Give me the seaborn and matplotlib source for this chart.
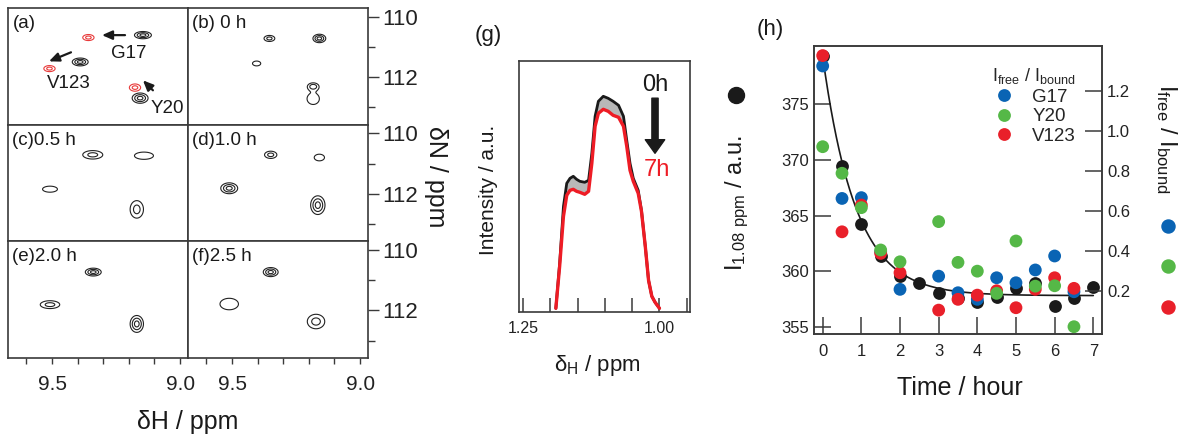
import numpy as np
import pandas as pd
import matplotlib
matplotlib.use("Agg")
import matplotlib.pyplot as plt
import seaborn as sns
from matplotlib.ticker import FixedLocator, FixedFormatter
from matplotlib.lines import Line2D

# ---------------- data: 2D peak lists (delta_H, delta_N, half-width H, half-width N, n contours)
panel_labels = ["(a)", "(b) 0 h", "(c)0.5 h", "(d)1.0 h", "(e)2.0 h", "(f)2.5 h"]
peaks_black = [
    [(9.145, 110.61, 0.033, 0.12, 3), (9.390, 111.50, 0.031, 0.13, 3), (9.156, 112.70, 0.031, 0.17, 3)],
    [(9.354, 110.72, 0.021, 0.10, 2), (9.159, 110.72, 0.025, 0.14, 3), (9.404, 111.55, 0.016, 0.08, 1),
     (9.183, 112.31, 0.020, 0.11, 2), (9.183, 112.72, 0.024, 0.19, 1)],
    [(9.341, 110.71, 0.039, 0.14, 2), (9.141, 110.74, 0.037, 0.12, 1), (9.508, 111.85, 0.029, 0.10, 1),
     (9.169, 112.52, 0.026, 0.29, 2)],
    [(9.349, 110.71, 0.024, 0.12, 2), (9.159, 110.80, 0.020, 0.11, 1), (9.511, 111.82, 0.033, 0.18, 3),
     (9.165, 112.38, 0.028, 0.31, 3)],
    [(9.339, 110.73, 0.031, 0.13, 3), (9.508, 111.81, 0.038, 0.13, 2), (9.169, 112.45, 0.026, 0.28, 3)],
    [(9.349, 110.73, 0.029, 0.15, 3), (9.511, 111.79, 0.036, 0.19, 1), (9.172, 112.37, 0.034, 0.24, 2)],
]
peaks_red_a = [(9.358, 110.69, 0.022, 0.10, 2), (9.510, 111.72, 0.022, 0.10, 2), (9.176, 112.35, 0.022, 0.12, 2)]
assign_names = ["G17", "V123", "Y20"]
assign_text_pos = [(9.199, 111.21), (9.434, 112.21), (9.051, 113.04)]
assign_arrows = [((9.215, 110.61), (9.305, 110.61)), ((9.426, 111.18), (9.512, 111.48)),
                 ((9.106, 112.44), (9.145, 112.11))]

# ---------------- data: 1D spectra, panel (g)
ppm_g = [1.190, 1.183, 1.176, 1.170, 1.164, 1.158, 1.152, 1.146, 1.137, 1.130, 1.124, 1.118, 1.112, 1.103,
         1.094, 1.085, 1.075, 1.066, 1.060, 1.054, 1.048, 1.039, 1.033, 1.026, 1.020, 1.014, 1.008, 1.000]
int_0h = [4, 49, 106, 129, 134, 136, 133, 131, 130, 132, 159, 196, 211, 216,
          214, 211, 207, 196, 172, 149, 134, 122, 102, 66, 32, 16, 10, 4]
int_7h = [4, 46, 96, 117, 122, 123, 121, 120, 118, 121, 149, 186, 199, 203,
          201, 197, 195, 186, 166, 142, 131, 119, 101, 66, 32, 16, 10, 4]

# ---------------- data: panel (h)
time_black = [0, 0.5, 1, 1.5, 2, 2.5, 3, 3.5, 4, 4.5, 5, 5.5, 6, 6.5, 7]
intensity_108 = [379.3, 369.45, 364.24, 361.36, 359.59, 358.96, 358.0, 357.6, 357.25, 357.7, 358.45,
                 358.9, 356.86, 357.55, 358.6]
time_ratio = [0, 0.5, 1, 1.5, 2, 3, 3.5, 4, 4.5, 5, 5.5, 6, 6.5]
ratio_G17 = [1.325, 0.662, 0.666, 0.395, 0.207, 0.273, 0.190, 0.157, 0.265, 0.240, 0.304, 0.374, 0.195]
ratio_V123 = [1.377, 0.495, 0.629, 0.387, 0.290, 0.103, 0.157, 0.178, 0.200, 0.115, 0.207, 0.265, 0.212]
ratio_Y20 = [0.921, 0.788, 0.616, 0.404, 0.345, 0.546, 0.342, 0.298, 0.187, 0.449, 0.223, 0.225, 0.020]
fit_plateau, fit_amp, fit_rate = 357.8, 21.5, 1.165

BLUE, GREEN, RED, BLACK = "#0a64b4", "#55b847", "#e9202a", "#1a1a1a"
SPINE = "#3a3a3a"

sns.set_theme(style="ticks")
plt.rcParams["font.family"] = ["Liberation Sans", "DejaVu Sans"]
plt.rcParams["mathtext.default"] = "regular"
plt.rcParams["axes.edgecolor"] = SPINE
plt.rcParams["axes.linewidth"] = 1.1
plt.rcParams["xtick.color"] = SPINE
plt.rcParams["ytick.color"] = SPINE
plt.rcParams["xtick.labelcolor"] = "#222222"
plt.rcParams["ytick.labelcolor"] = "#222222"

W, H = 1195, 438
fig = plt.figure(figsize=(W / 100, H / 100), dpi=100)


def fx(px):
    return px / W


def fy(py):
    return 1 - py / H


# ================= contour panels
gs = fig.add_gridspec(3, 2, left=fx(8), right=fx(368), top=fy(8), bottom=fy(358), wspace=0, hspace=0)
xg = np.linspace(8.95, 9.70, 400)
yg = np.linspace(109.5, 113.8, 400)
XX, YY = np.meshgrid(xg, yg)
levels = [0.3, 0.55, 0.8]


def spectrum(peaks):
    Z = np.zeros_like(XX)
    for (cx, cy, wx, wy, n) in peaks:
        A = levels[n - 1] + 0.12
        f = np.sqrt(2 * np.log(A / levels[0]))
        sx, sy = wx / f, wy / f
        Z += A * np.exp(-0.5 * (((XX - cx) / sx) ** 2 + ((YY - cy) / sy) ** 2))
    return Z


for i in range(6):
    r, c = divmod(i, 2)
    ax = fig.add_subplot(gs[r, c])
    ax.contour(XX, YY, spectrum(peaks_black[i]), levels=levels, colors="#222222", linewidths=0.8)
    if i == 0:
        ax.contour(XX, YY, spectrum(peaks_red_a), levels=levels, colors="#e83a3a", linewidths=0.8)
        for name, (tx, ty), (a0, a1) in zip(assign_names, assign_text_pos, assign_arrows):
            ax.text(tx, ty, name, fontsize=13.5, ha="center", va="center", color="#1a1a1a")
            ax.annotate("", xy=a1, xytext=a0,
                        arrowprops=dict(arrowstyle="-|>,head_length=0.5,head_width=0.22",
                                        color="#1a1a1a", lw=1.6, shrinkA=0, shrinkB=0))
    ax.set_xlim(9.672, 8.969)
    ax.set_ylim(113.58, 109.71)
    ax.text(0.025, 0.94, panel_labels[i], transform=ax.transAxes, fontsize=13.5, va="top", ha="left",
            color="#1a1a1a")
    for s in ax.spines.values():
        s.set_linewidth(1.2)
    ax.xaxis.set_major_locator(FixedLocator([9.5, 9.0]))
    ax.xaxis.set_minor_locator(FixedLocator([9.6, 9.4, 9.3, 9.2, 9.1]))
    ax.xaxis.set_major_formatter(FixedFormatter(["9.5", "9.0"]))
    ax.yaxis.set_major_locator(FixedLocator([110, 112]))
    ax.yaxis.set_minor_locator(FixedLocator([111, 113]))
    ax.yaxis.set_major_formatter(FixedFormatter(["110", "112"]))
    ax.tick_params(axis="x", which="both", direction="out", length=4, width=1, labelsize=15, pad=8)
    if r < 2:
        ax.tick_params(axis="x", which="both", bottom=False, labelbottom=False)
    if c == 1:
        ax.yaxis.tick_right()
        ax.tick_params(axis="y", which="major", direction="out", length=8, width=1, labelsize=16,
                       left=False, labelleft=False, right=True, labelright=True, pad=2)
        ax.tick_params(axis="y", which="minor", direction="out", length=5, width=1, left=False, right=True)
    else:
        ax.tick_params(axis="y", which="both", left=False, right=False, labelleft=False, labelright=False)

fig.text(fx(188), fy(422), "δH / ppm", fontsize=18, ha="center", va="center", color="#1a1a1a")
fig.text(fx(436), fy(177), "δN / ppm", fontsize=18, ha="center", va="center", rotation=270, color="#1a1a1a")

# ================= panel (g)
axg = fig.add_axes([fx(519.3), fy(312.3), fx(690 - 519.3), (312.3 - 60.7) / H])
df_g = pd.DataFrame({"ppm": ppm_g * 2, "intensity": int_0h + int_7h,
                     "time": ["0h"] * len(ppm_g) + ["7h"] * len(ppm_g)})
axg.fill_between(ppm_g, int_7h, int_0h, color="#b8b8b8", lw=0)
sns.lineplot(data=df_g[df_g.time == "0h"], x="ppm", y="intensity", color=BLACK, lw=2.0, sort=False,
             estimator=None, ax=axg)
sns.lineplot(data=df_g[df_g.time == "7h"], x="ppm", y="intensity", color="#ee1c25", lw=2.4, sort=False,
             estimator=None, ax=axg)
axg.set_xlim(1.257, 0.944)
axg.set_ylim(0, 251.6)
axg.set_xlabel("")
axg.set_ylabel("")
axg.set_yticks([])
axg.xaxis.set_major_locator(FixedLocator([1.25, 1.00]))
axg.xaxis.set_minor_locator(FixedLocator([1.20, 1.15, 1.10, 1.05, 0.95]))
axg.xaxis.set_major_formatter(FixedFormatter(["1.25", "1.00"]))
axg.tick_params(axis="x", which="both", direction="in", length=10, width=1.1, labelsize=11.5, pad=6)
for s in axg.spines.values():
    s.set_linewidth(1.2)
axg.text(0.795, 0.903, "0h", transform=axg.transAxes, fontsize=17, ha="center", va="center", color=BLACK)
axg.text(0.805, 0.566, "7h", transform=axg.transAxes, fontsize=17, ha="center", va="center", color="#ee1c25")
axg.annotate("", xy=(0.795, 0.632), xytext=(0.795, 0.851), xycoords="axes fraction",
             arrowprops=dict(arrowstyle="simple,head_length=0.7,head_width=1.0,tail_width=0.32",
                             color=BLACK, mutation_scale=14, shrinkA=0, shrinkB=0))
fig.text(fx(488), fy(35), "(g)", fontsize=16, ha="center", va="center", color="#1a1a1a")
fig.text(fx(488), fy(190), "Intensity / a.u.", fontsize=15, ha="center", va="center", rotation=90,
         color="#1a1a1a")
fig.text(fx(597), fy(366), r"δ$_{H}$ / ppm", fontsize=16, ha="center", va="center", color="#1a1a1a")

# ================= panel (h)
axh = fig.add_axes([fx(814.3), fy(334.3), fx(1102.3 - 814.3), (334.3 - 46) / H])
t_fit = np.linspace(0, 7, 300)
df_fit = pd.DataFrame({"t": t_fit, "I": fit_plateau + fit_amp * np.exp(-fit_rate * t_fit)})
sns.scatterplot(x=time_black, y=intensity_108, color=BLACK, s=85, linewidth=0, ax=axh, zorder=2)
sns.lineplot(data=df_fit, x="t", y="I", color=BLACK, lw=1.2, ax=axh, zorder=3)
axh.set_xlim(-0.217, 7.233)
axh.set_ylim(354.32, 380.24)
axh.set_xticks(range(0, 8))
axh.set_yticks([355, 360, 365, 370, 375])
axh.tick_params(axis="both", direction="in", length=12, width=1.1, labelsize=12, right=False)
axh.tick_params(axis="x", pad=7)
axh.set_xlabel("")
axh.set_ylabel("")
for s in axh.spines.values():
    s.set_linewidth(1.2)

axh2 = axh.twinx()
df_r = pd.DataFrame({
    "t": time_ratio * 3,
    "ratio": ratio_G17 + ratio_V123 + ratio_Y20,
    "peak": ["G17"] * len(time_ratio) + ["V123"] * len(time_ratio) + ["Y20"] * len(time_ratio),
})
sns.scatterplot(data=df_r, x="t", y="ratio", hue="peak", hue_order=["G17", "Y20", "V123"],
                palette={"G17": BLUE, "Y20": GREEN, "V123": RED}, s=85, linewidth=0, ax=axh2, zorder=4)
axh2.set_ylim(-0.018, 1.425)
axh2.set_yticks([0.2, 0.4, 0.6, 0.8, 1.0, 1.2])
axh2.set_yticklabels(["0.2", "0.4", "0.6", "0.8", "1.0", "1.2"])
axh2.tick_params(axis="y", direction="in", length=12, width=1.1, labelsize=12)
axh2.set_ylabel("")
handles, labels = axh2.get_legend_handles_labels()
leg = axh2.legend(handles, labels, title=r"I$_{free}$ / I$_{bound}$", loc="upper right",
                  bbox_to_anchor=(0.935, 0.955), frameon=False, fontsize=13.5, title_fontsize=13,
                  handletextpad=0.5, labelspacing=0.12, borderaxespad=0, markerscale=1.0)
leg._legend_box.align = "right"

fig.text(fx(770), fy(30), "(h)", fontsize=16, ha="center", va="center", color="#1a1a1a")
fig.text(fx(960), fy(388), "Time / hour", fontsize=18, ha="center", va="center", color="#1a1a1a")
fig.text(fx(737), fy(203), r"I$_{1.08\ ppm}$ / a.u.", fontsize=17, ha="center", va="center",
         rotation=90, color="#1a1a1a")
fig.text(fx(1166), fy(139), r"I$_{free}$ / I$_{bound}$", fontsize=17, ha="center", va="center",
         rotation=270, color="#1a1a1a")
fig.add_artist(Line2D([fx(736)], [fy(95)], marker="o", markersize=11.5, color=BLACK, lw=0,
                      transform=fig.transFigure))
for yy, col in zip([226, 266, 307], [BLUE, GREEN, RED]):
    fig.add_artist(Line2D([fx(1168)], [fy(yy)], marker="o", markersize=9.4, color=col, lw=0,
                          transform=fig.transFigure))

fig.savefig("out.png", dpi=100)
